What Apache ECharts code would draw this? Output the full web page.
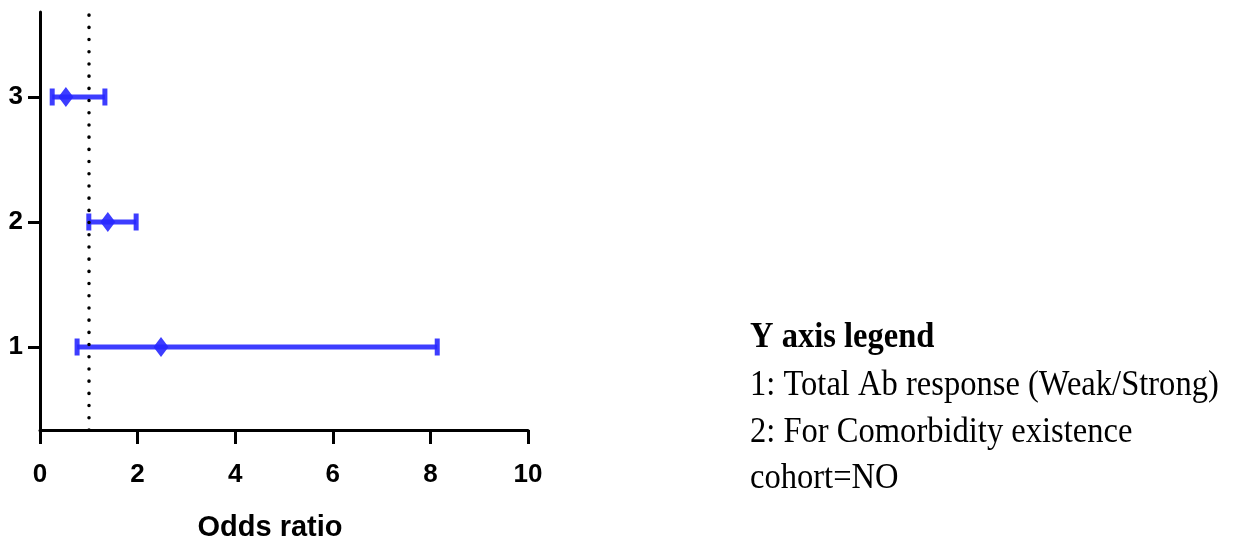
<!DOCTYPE html>
<html><head><meta charset="utf-8">
<script src="https://cdn.jsdelivr.net/npm/echarts@6/dist/echarts.min.js"></script>
<style>html,body{margin:0;padding:0;background:#fff}#c{width:1233px;height:537px}</style>
</head><body><div id="c"></div>
<script>
const rows = [1, 2, 3];
const oddsRatio = [2.48, 1.39, 0.53];
const lowerCI = [0.76, 1.0, 0.25];
const upperCI = [8.14, 1.97, 1.33];
const xTicks = [0, 2, 4, 6, 8, 10];
const referenceLine = 1;
const legendTitle = 'Y axis legend';
const legendLines = ['1: Total Ab response (Weak/Strong)', '2: For Comorbidity existence', 'cohort=NO'];

const blue = 'rgba(40,40,255,0.9)';
const narrow = '"Liberation Sans Narrow", "Arial Narrow", "Liberation Sans", sans-serif';
const serif = '"Liberation Serif", "Times New Roman", serif';

const chart = echarts.init(document.getElementById('c'));
const errData = rows.map((r, i) => [lowerCI[i], upperCI[i], r]);
const ptData = rows.map((r, i) => [oddsRatio[i], r]);

function legendText(text, y, bold) {
  return {
    type: 'text', x: 750, y: y, scaleX: 0.93,
    style: {text: text, font: (bold ? 'bold ' : '') + '35px ' + serif, fill: '#000'}
  };
}

chart.setOption({
  animation: false,
  grid: {left: 40, right: 705, top: 12, bottom: 107, outerBoundsMode: 'none', containLabel: false},
  xAxis: {
    type: 'value', min: xTicks[0], max: xTicks[xTicks.length - 1], interval: 2,
    splitLine: {show: false},
    axisLine: {lineStyle: {color: '#000', width: 3}},
    axisTick: {length: 14, lineStyle: {color: '#000', width: 3}},
    axisLabel: {color: '#000', fontFamily: narrow, fontWeight: 'bold', fontSize: 26, margin: 32},
    name: 'Odds ratio', nameLocation: 'middle', nameGap: 83,
    nameTextStyle: {color: '#000', fontFamily: narrow, fontWeight: 'bold', fontSize: 29, padding: [0, 28, 0, 0]}
  },
  yAxis: {
    type: 'value', min: 0.336, max: 3.68,
    splitLine: {show: false},
    axisLine: {show: true, lineStyle: {color: '#000', width: 3}},
    axisTick: {show: true, length: 12, customValues: rows, lineStyle: {color: '#000', width: 3}},
    axisLabel: {color: '#000', fontFamily: narrow, fontWeight: 'bold', fontSize: 26, margin: 17, customValues: rows, padding: [4, 0, 0, 0]}
  },
  series: [
    {
      type: 'custom',
      data: errData,
      encode: {x: [0, 1], y: 2},
      renderItem: function (params, api) {
        const lo = api.coord([api.value(0), api.value(2)]);
        const hi = api.coord([api.value(1), api.value(2)]);
        const h = 8.5;
        const st = {stroke: blue, lineWidth: 5, fill: null};
        return {
          type: 'group',
          children: [
            {type: 'line', shape: {x1: lo[0], y1: lo[1], x2: hi[0], y2: hi[1]}, style: st},
            {type: 'line', shape: {x1: lo[0], y1: lo[1] - h, x2: lo[0], y2: lo[1] + h}, style: st},
            {type: 'line', shape: {x1: hi[0], y1: hi[1] - h, x2: hi[0], y2: hi[1] + h}, style: st}
          ]
        };
      },
      markLine: {
        silent: true, symbol: 'none', label: {show: false},
        lineStyle: {color: '#000', width: 3.5, type: [0.1, 12.1], cap: 'round'},
        data: [{xAxis: referenceLine}]
      },
      z: 3
    },
    {
      type: 'scatter',
      data: ptData,
      symbol: 'diamond',
      symbolSize: [15, 20],
      itemStyle: {color: blue, opacity: 1},
      z: 4
    }
  ],
  graphic: [
    legendText(legendTitle, 320, true),
    legendText(legendLines[0], 368, false),
    legendText(legendLines[1], 415, false),
    legendText(legendLines[2], 461, false)
  ]
});
</script></body></html>
